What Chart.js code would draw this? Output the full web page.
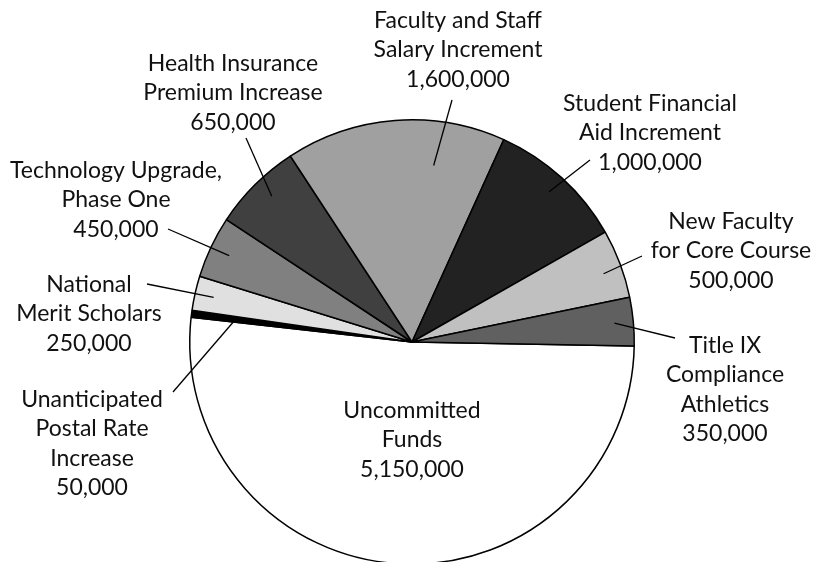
<!DOCTYPE html>
<html>
<head>
<meta charset="utf-8">
<script src="https://cdn.jsdelivr.net/npm/chart.js@4.4.1/dist/chart.umd.min.js"></script>
<style>
  html, body { margin: 0; padding: 0; background: #fff; }
  #wrap { width: 815px; height: 562px; overflow: hidden; position: relative; }
  #budgetChart { display: block; }
</style>
</head>
<body>
<div id="wrap">
  <canvas id="budgetChart" width="815" height="566" style="width:815px;height:566px"></canvas>
</div>
<script>
// Budget allocations (dollars)
const categories = [
  'Uncommitted\nFunds',
  'Unanticipated\nPostal Rate\nIncrease',
  'National\nMerit Scholars',
  'Technology Upgrade,\nPhase One',
  'Health Insurance\nPremium Increase',
  'Faculty and Staff\nSalary Increment',
  'Student Financial\nAid Increment',
  'New Faculty\nfor Core Course',
  'Title IX\nCompliance\nAthletics'
];
const amounts = [5150000, 50000, 250000, 450000, 650000, 1600000, 1000000, 500000, 350000];
const sliceColors = ['#ffffff', '#000000', '#e0e0e0', '#808080', '#404040', '#a0a0a0', '#222222', '#c0c0c0', '#606060'];

// where each label goes: text centre x, first baseline y, leader end, leader start (fraction of radius, angle shift in deg)
const labelLayout = [
  { x: 412, y: 418, leader: null },
  { x: 92, y: 407, end: [173, 392], frac: 0.81, shift: -1 },
  { x: 89, y: 292, end: [147, 284], frac: 0.915, shift: 0 },
  { x: 116, y: 178, end: [168, 229], frac: 0.91, shift: 0 },
  { x: 233, y: 71, end: [246, 138], frac: 0.91, shift: 1 },
  { x: 458, y: 28, end: [452, 100], frac: 0.8, shift: 11.4 },
  { x: 650, y: 111, end: [590, 160], frac: 0.915, shift: 0 },
  { x: 731, y: 229, end: [642, 256], frac: 0.915, shift: 1 },
  { x: 725, y: 353, end: [675, 338], frac: 0.915, shift: 0 }
];

const FONT = '23px Lato, "Noto Sans", sans-serif';
const LINE_H = 29.3;

const sliceLabels = {
  id: 'sliceLabels',
  afterDatasetsDraw(chart) {
    const ctx = chart.ctx;
    const arcs = chart.getDatasetMeta(0).data;
    ctx.save();
    ctx.strokeStyle = '#000';
    ctx.lineWidth = 1.3;
    ctx.fillStyle = '#111';
    ctx.font = FONT;
    ctx.textAlign = 'center';
    ctx.textBaseline = 'alphabetic';

    arcs.forEach((arc, i) => {
      const lay = labelLayout[i];
      // leader line from inside the slice out to the label
      if (lay.end) {
        const mid = (arc.startAngle + arc.endAngle) / 2 + lay.shift * Math.PI / 180;
        const r = arc.outerRadius * lay.frac;
        ctx.beginPath();
        ctx.moveTo(arc.x + Math.cos(mid) * r, arc.y + Math.sin(mid) * r);
        ctx.lineTo(lay.end[0], lay.end[1]);
        ctx.stroke();
      }
      const lines = categories[i].split('\n');
      lines.push(amounts[i].toLocaleString('en-US'));
      lines.forEach((t, k) => {
        ctx.fillText(t, lay.x, lay.y + k * LINE_H);
      });
    });
    ctx.restore();
  }
};

const ctx = document.getElementById('budgetChart').getContext('2d');
const budgetChart = new Chart(ctx, {
  type: 'pie',
  data: {
    labels: categories,
    datasets: [{
      data: amounts,
      backgroundColor: sliceColors,
      borderColor: '#000',
      borderWidth: 1.5
    }]
  },
  options: {
    responsive: false,
    animation: false,
    rotation: 91,
    layout: {
      padding: { left: 189, right: 180, top: 118, bottom: 0 }
    },
    plugins: {
      legend: { display: false },
      tooltip: { enabled: false }
    }
  },
  plugins: [sliceLabels]
});
</script>
</body>
</html>
